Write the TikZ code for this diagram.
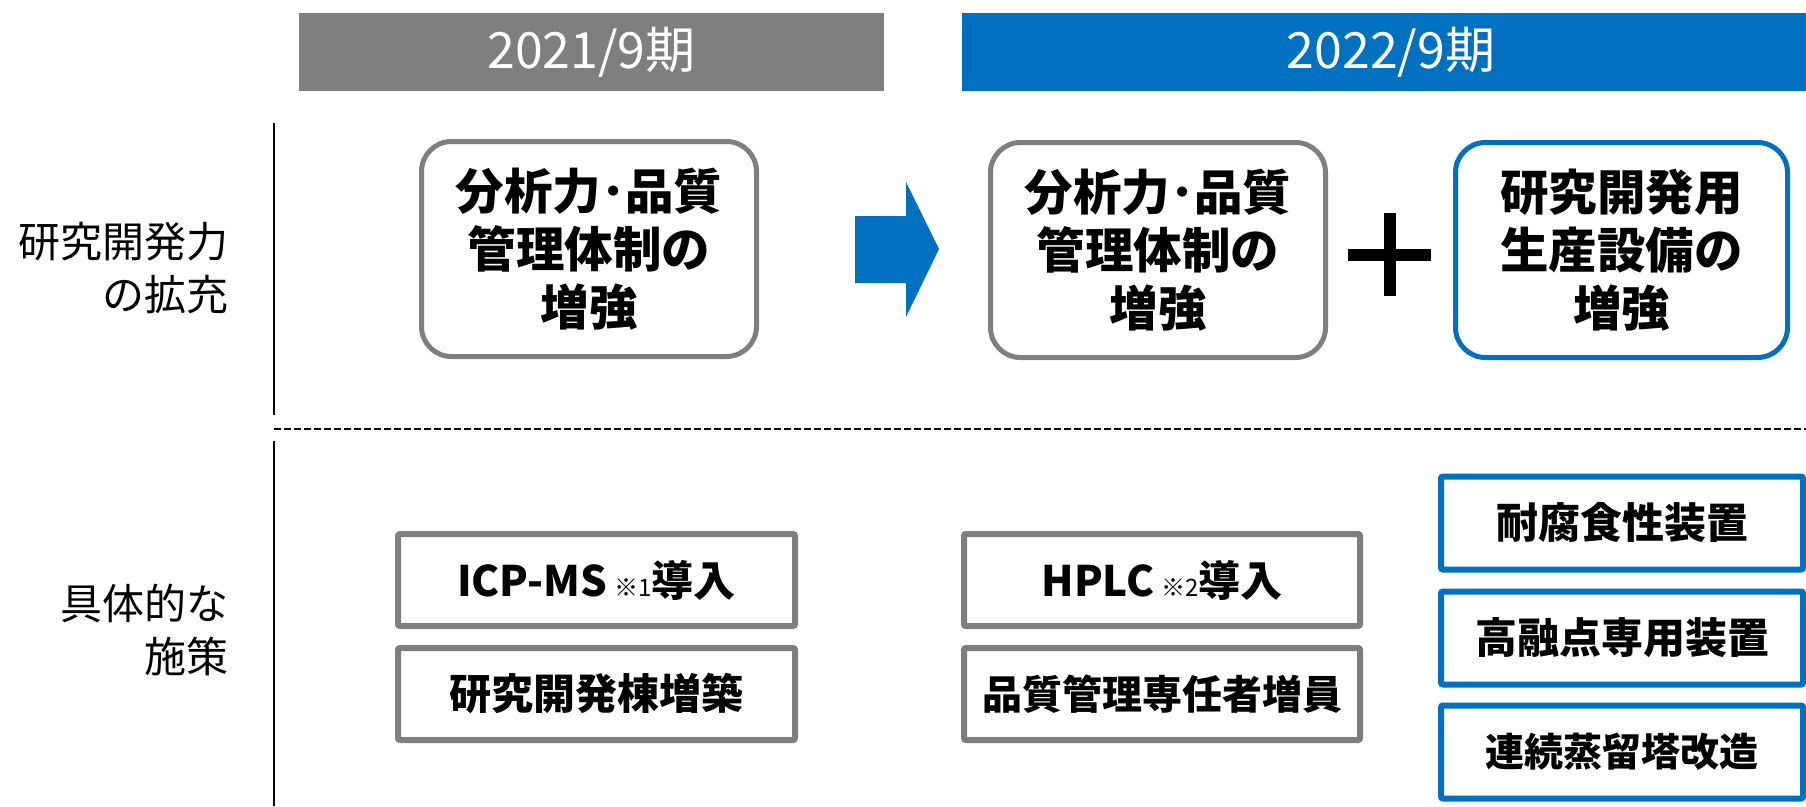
\documentclass[tikz,border=0pt]{standalone}
\usepackage{fontspec}
\setmainfont{Noto Sans CJK JP}
\definecolor{hgray}{HTML}{7F7F7F}
\definecolor{hblue}{HTML}{0070C0}
\newcommand\myNoteSize{\mdseries\fontsize{24}{24}\selectfont}
\begin{document}
\begin{tikzpicture}[x=1pt,y=-1pt,
  hdrtext/.style={text=white, inner sep=0pt, font=\fontsize{50}{54}\selectfont},
  bigbox/.style={draw, line width=5pt, rounded corners=30pt, fill=white,
    minimum width=335pt, minimum height=215pt, align=center, inner sep=0pt,
    font=\bfseries\fontsize{48.5}{58}\selectfont},
  smallbox/.style={draw, line width=6pt, rounded corners=2pt, fill=white,
    minimum height=92pt, inner sep=0pt, font=\bfseries\fontsize{42}{48}\selectfont},
  sidelbl/.style={anchor=east, align=right, inner sep=0pt, font=\fontsize{42}{53}\selectfont}
]
\useasboundingbox (0,0) rectangle (1806,806);

% headers
\fill[hgray] (299,13) rectangle (884,91);
\fill[hblue] (962,13) rectangle (1806,91);
\node[hdrtext] (h1) at (591.5,52) {2021/9期};
\node[hdrtext] (h2) at (1391,52) {2022/9期};

% axis lines
\draw[line width=2pt] (274,123) -- (274,415);
\draw[line width=2pt] (274,441) -- (274,806);
\draw[line width=2pt, dash pattern=on 7pt off 3pt] (274,429) -- (1806,429);

% side labels
\node[sidelbl] (l1) at (229,268) {研究開発力\\の拡充};
\node[sidelbl] (l2) at (229,630) {具体的な\\施策};

% top boxes
\node[bigbox, draw=hgray] (b1) at (589,249) {分析力･品質\\管理体制の\\増強};
\node[bigbox, draw=hgray] (b2) at (1158,250) {分析力･品質\\管理体制の\\増強};
\node[bigbox, draw=hblue, minimum width=332pt] (b3) at (1621.5,250) {研究開発用\\生産設備の\\増強};

% block arrow
\fill[hblue] (855,216) -- (906,216) -- (906,182) -- (939,249) -- (906,317) -- (906,283) -- (855,283) -- cycle;

% plus
\fill[black] (1384,213) rectangle (1396,296);
\fill[black] (1348,249) rectangle (1431,261);

% bottom gray boxes
\node[smallbox, draw=hgray, minimum width=397pt] (s1) at (596.5,580) {ICP-MS\,{\myNoteSize ※1}導入};
\node[smallbox, draw=hgray, minimum width=397pt] (s2) at (596.5,694) {研究開発棟増築};
\node[smallbox, draw=hgray, minimum width=396pt] (s3) at (1162,580) {HPLC\,{\myNoteSize ※2}導入};
\node[smallbox, draw=hgray, minimum width=396pt, font=\bfseries\fontsize{40}{48}\selectfont] (s4) at (1162,694) {品質管理専任者増員};

% bottom blue boxes
\node[smallbox, draw=hblue, minimum width=362pt, minimum height=93pt] (t1) at (1622,523) {耐腐食性装置};
\node[smallbox, draw=hblue, minimum width=362pt, minimum height=93pt] (t2) at (1622,638) {高融点専用装置};
\node[smallbox, draw=hblue, minimum width=362pt, minimum height=93pt, font=\bfseries\fontsize{39}{48}\selectfont] (t3) at (1622,752) {連続蒸留塔改造};
\end{tikzpicture}
\end{document}
